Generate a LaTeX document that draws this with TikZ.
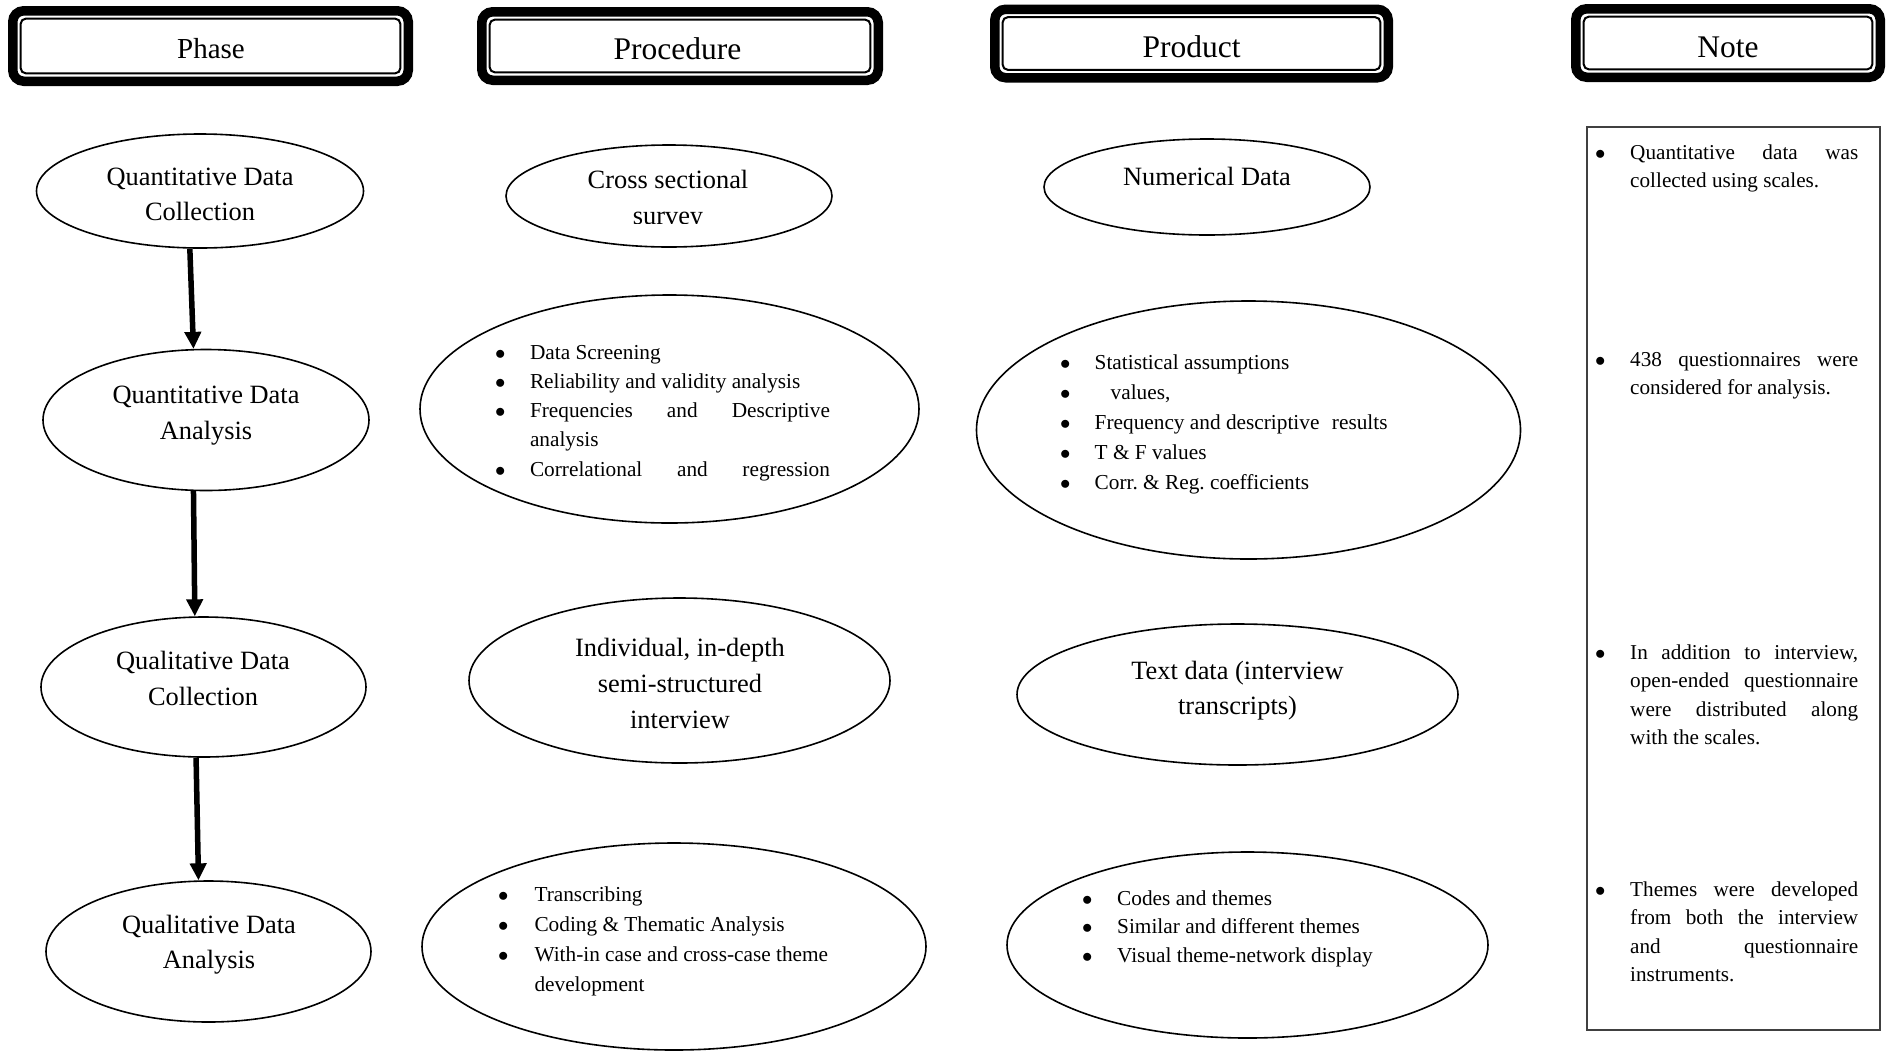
\documentclass[tikz,border=0pt]{standalone}
\usepackage{fontspec}
\setmainfont{Liberation Serif}
\usetikzlibrary{shapes.geometric,arrows.meta}
\newcommand\bul[2][35pt]{\par\spaceskip=0pt\xspaceskip=0pt\frenchspacing\noindent\hangindent=#1\relax\hangafter=1\relax\makebox[#1][l]{\strut$\bullet$}#2\par}
\newcommand\jl[2][228pt]{\makebox[#1][s]{\spaceskip=0pt\relax #2}}
\tikzset{
  hout/.style={draw, line width=9.5pt, rounded corners=11pt, inner sep=0pt},
  hin/.style={draw, line width=2pt, rounded corners=5pt, inner sep=0pt},
  hdr/.style={font=\fontsize{31.5}{38}\selectfont, inner sep=0pt, anchor=base},
  ell/.style={draw, ellipse, line width=1.6pt, inner sep=0pt},
  lbl/.style={font=\fontsize{26.4}{35.5}\selectfont, align=center, inner sep=0pt},
  blist/.style={font=\fontsize{21.3}{29.3}\selectfont, inner sep=0pt, anchor=north west, align=left, text width=#1},
  nlist/.style={font=\fontsize{21.2}{28.5}\selectfont, inner sep=0pt, anchor=north west, align=left, text width=265pt},
  flow/.style={line width=5.5pt, -{Triangle[length=17pt,width=16pt]}},
  notebox/.style={draw=black!75, line width=1.5pt, inner sep=0pt}
}
\begin{document}
\frenchspacing
\begin{tikzpicture}[x=1pt,y=-1pt]
\useasboundingbox (0,0) rectangle (1889,1050);
\fill[white] (0,0) rectangle (1889,1050);

% headers
\node (h1o) [hout, minimum width=395.5pt, minimum height=70.5pt] at (210.5,46) {};
\node (h1i) [hin, minimum width=379.6pt, minimum height=54.6pt] at (h1o.center) {};
\node (h1t) [hdr, font=\fontsize{29}{35}\selectfont] at (211,58) {Phase};

\node (h2o) [hout, minimum width=396.5pt, minimum height=68.5pt] at (680,46) {};
\node (h2i) [hin, minimum width=380.6pt, minimum height=52.6pt] at (h2o.center) {};
\node (h2t) [hdr] at (677.5,59) {Procedure};

\node (h3o) [hout, minimum width=393.5pt, minimum height=68.5pt] at (1191.5,43.5) {};
\node (h3i) [hin, minimum width=377.6pt, minimum height=52.6pt] at (h3o.center) {};
\node (h3t) [hdr] at (1191.5,57) {Product};

\node (h4o) [hout, minimum width=304.5pt, minimum height=68.5pt] at (1728,43) {};
\node (h4i) [hin, minimum width=288.6pt, minimum height=52.6pt] at (h4o.center) {};
\node (h4t) [hdr] at (1728,57) {Note};

% phase column
\node (e1) [ell, minimum width=327pt, minimum height=114pt] at (200,191) {};
\node (e2) [ell, minimum width=326pt, minimum height=141pt] at (206,420) {};
\node (e3) [ell, minimum width=325pt, minimum height=140pt] at (203.5,687) {};
\node (e4) [ell, minimum width=325pt, minimum height=141pt] at (208.5,951.5) {};
\node (t1) [lbl] at (200,195.7) {\strut Quantitative Data\\Collection\strut};
\node (t2) [lbl] at (206,414.4) {\strut Quantitative Data\\Analysis\strut};
\node (t3) [lbl] at (203,680.4) {\strut Qualitative Data\\Collection\strut};
\node (t4) [lbl] at (209,943.9) {\strut Qualitative Data\\Analysis\strut};
\draw[flow] (e1.260) -- (e2.100);
\draw[flow] (e2.260) -- (e3.97);
\draw[flow] (e3.264) -- (e4.98);

% procedure column
\node (p1) [ell, minimum width=326pt, minimum height=102pt] at (669,196) {};
\begin{scope}
  \clip (500,100) rectangle (840,223.5);
  \node (p1t) [lbl] at (668,199.6) {\strut Cross sectional\\survey\strut};
\end{scope}
\node (p2) [ell, minimum width=499pt, minimum height=228pt] at (669.5,409) {};
\node (p2t) [blist=338pt] at (494.8,329.5) {%
\bul{Data Screening}
\bul{Reliability and validity analysis}
\bul{\jl[300pt]{Frequencies and Descriptive}\newline analysis}
\bul{\jl[300pt]{Correlational and regression}}};
\node (p3) [ell, minimum width=421pt, minimum height=165pt] at (679.5,680.5) {};
\node (p3t) [lbl, font=\fontsize{26.4}{36}\selectfont] at (680,685.3) {\strut Individual, in-depth\\semi-structured\\interview\strut};
\node (p4) [ell, minimum width=504pt, minimum height=207pt] at (674,946.5) {};
\node (p4t) [blist=350pt, font=\fontsize{21.3}{30}\selectfont] at (497.8,871.3) {%
\bul[36.5pt]{Transcribing}
\bul[36.5pt]{Coding \& Thematic Analysis}
\bul[36.5pt]{With-in case and cross-case theme\newline development}};

% product column
\node (q1) [ell, minimum width=326pt, minimum height=96pt] at (1207,187) {};
\node (q1t) [lbl] at (1207,178.4) {\strut Numerical Data};
\node (q2) [ell, minimum width=544pt, minimum height=258pt] at (1248.5,430) {};
\node (q2t) [blist=360pt, font=\fontsize{21.3}{29.9}\selectfont] at (1060,339.3) {%
\bul[34.5pt]{Statistical assumptions}
\bul[34.5pt]{\hspace*{16pt}values,}
\bul[34.5pt]{Frequency and descriptive\hspace{12.5pt}results}
\bul[34.5pt]{T \& F values}
\bul[34.5pt]{Corr. \& Reg. coefficients}};
\node (q3) [ell, minimum width=441pt, minimum height=141pt] at (1237.5,694.5) {};
\node (q3t) [lbl] at (1237.5,689.9) {\strut Text data (interview\\transcripts)\strut};
\node (q4) [ell, minimum width=481pt, minimum height=186pt] at (1247.5,945) {};
\node (q4t) [blist=340pt, font=\fontsize{21.3}{28.7}\selectfont] at (1082,876.2) {%
\bul{Codes and themes}
\bul{Similar and different themes}
\bul{Visual theme-network display}};

% note column
\node (nb) [notebox, minimum width=293pt, minimum height=903pt] at (1733.5,578.5) {};
\node (n1) [nlist] at (1595,130.4) {\bul{\jl{Quantitative data was}\newline collected using scales.}};
\node (n2) [nlist] at (1595,337.4) {\bul{\jl{438 questionnaires were}\newline considered for analysis.}};
\node (n3) [nlist] at (1595,630.4) {\bul{\jl{In addition to interview,}\newline\jl{open-ended questionnaire}\newline\jl{were distributed along}\newline with the scales.}};
\node (n4) [nlist] at (1595,867.4) {\bul{\jl{Themes were developed}\newline\jl{from both the interview}\newline\jl{and questionnaire}\newline instruments.}};
\end{tikzpicture}
\end{document}
